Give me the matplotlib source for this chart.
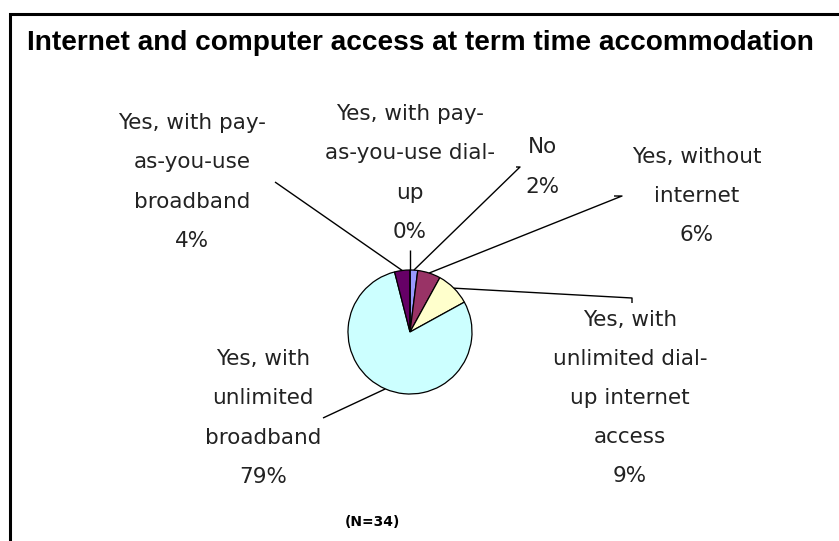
import numpy as np
import matplotlib
matplotlib.use("Agg")
import matplotlib.pyplot as plt
from matplotlib.patches import Rectangle

W, H = 839, 541

title = "Internet and computer access at term time accommodation"
note = "(N=34)"

categories = [
    "No",
    "Yes, without\ninternet",
    "Yes, with\nunlimited dial-\nup internet\naccess",
    "Yes, with\nunlimited\nbroadband",
    "Yes, with pay-\nas-you-use\nbroadband",
    "Yes, with pay-\nas-you-use dial-\nup",
]
values = [2, 6, 9, 79, 4, 0]
colors = ["#9999FF", "#993366", "#FFFFCC", "#CCFFFF", "#660066", "#FF8080"]

# label layout (image pixel coords): label centre, leader end, optional end tick
label_pos = [(542, 167), (697, 196), (630, 398), (263, 418), (192, 182), (410, 173)]
leader_end = [(520, 167), (622, 196), (632, 298), (323, 418), (275, 182), (410, 250)]
leader_tick = [(-4, 0), (-8, 0), (0, 5), (0, 0), (0, 0), (0, 0)]

fig = plt.figure(figsize=(W / 100, H / 100), dpi=100)
ax = fig.add_axes([0, 0, 1, 1])

def fy(y):
    return H - y

cx, cy, r = 410, 332, 62
wedges, _ = ax.pie(values, colors=colors, startangle=90, counterclock=False,
                   center=(cx, fy(cy)), radius=r, frame=True,
                   wedgeprops=dict(edgecolor="black", linewidth=0.9))
ax.set_xlim(0, W)
ax.set_ylim(0, H)
ax.axis("off")

total = sum(values)
start = 0.0
for i, (cat, v) in enumerate(zip(categories, values)):
    mid = start + v / total * 360 / 2
    start += v / total * 360
    th = np.deg2rad(mid)
    px = cx + r * np.sin(th)
    py = cy - r * np.cos(th)
    ex, ey = leader_end[i]
    tx, ty = leader_tick[i]
    xs = [px, ex, ex + tx]
    ys = [fy(py), fy(ey), fy(ey + ty)]
    ax.plot(xs, ys, color="black", lw=1.0, solid_capstyle="butt")
    lx, ly = label_pos[i]
    ax.text(lx, fy(ly), f"{cat}\n{v}%", ha="center", va="center",
            fontsize=15.5, family="DejaVu Sans", color="#222222",
            linespacing=2.2)

t = ax.text(420, fy(43), title, ha="center", va="center",
            fontsize=20, fontweight="bold", family="Liberation Sans")
fig.canvas.draw()
bb = t.get_window_extent()
t.set_fontsize(20 * 785 / bb.width)

ax.text(372, fy(522), note, ha="center", va="center", fontsize=10,
        fontweight="bold", family="DejaVu Sans")

fig.add_artist(Rectangle((9.5 / W, -0.1), 1.2, (H - 14) / H + 0.1,
                         transform=fig.transFigure, fill=False,
                         edgecolor="black", linewidth=2.2))

fig.savefig("out.png", dpi=100)
